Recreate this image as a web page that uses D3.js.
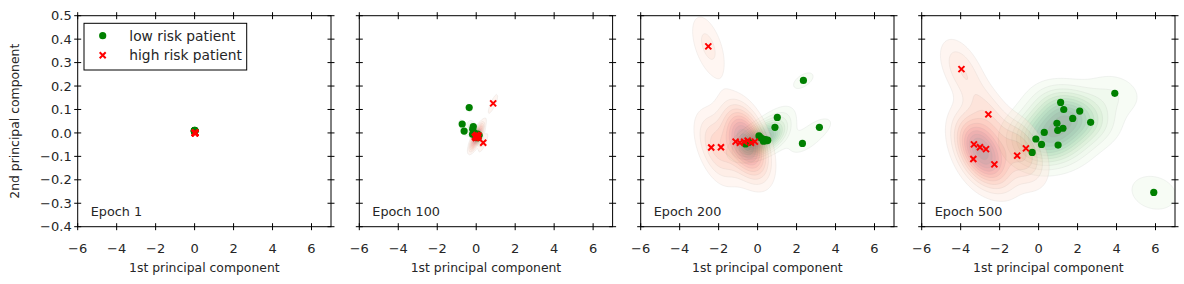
<!DOCTYPE html>
<html>
<head>
<meta charset="utf-8">
<script src="https://cdn.jsdelivr.net/npm/d3@7"></script>
<style>
  body { margin: 0; background: #fff; }
  text { font-family: "DejaVu Sans", sans-serif; fill: #262626; }
</style>
</head>
<body>
<svg id="chart" width="1184" height="284"></svg>
<script>
// ---- data ----
const epochLabels = ["Epoch 1", "Epoch 100", "Epoch 200", "Epoch 500"];
const xTicks = [-6, -4, -2, 0, 2, 4, 6];
const yTicks = [-0.4, -0.3, -0.2, -0.1, 0.0, 0.1, 0.2, 0.3, 0.4, 0.5];
const seriesNames = ["low risk patient", "high risk patient"];

const low1 = [[0.0, 0.009], [0.01, 0.008], [-0.01, 0.01], [0.0, 0.007], [0.02, 0.009], [-0.02, 0.008], [0.01, 0.011],
  [0.0, 0.01], [-0.01, 0.007], [0.02, 0.01], [0.0, 0.008], [0.01, 0.009], [-0.01, 0.009], [0.0, 0.011], [0.01, 0.007]];
const high1 = [[0.02, 0.0], [0.03, 0.001], [0.01, -0.001], [0.02, 0.002], [0.04, 0.0], [0.03, -0.001], [0.01, 0.001], [0.02, -0.002], [0.03, 0.0]];

const low100 = [[-0.36, 0.108], [-0.72, 0.038], [-0.62, 0.008], [-0.15, 0.027], [-0.18, 0.016], [-0.19, -0.006],
  [0.0, -0.01], [0.05, -0.015], [0.1, -0.02], [-0.05, -0.005], [0.0, -0.02], [0.15, -0.01], [0.08, -0.005], [-0.1, 0.0], [0.02, -0.012]];
const high100 = [[0.87, 0.126], [0.36, -0.042], [-0.07, -0.016], [0.1, -0.02], [0.02, -0.009], [0.05, -0.018], [0.12, -0.012], [-0.02, -0.022], [0.0, -0.014]];

const low200 = [[2.35, 0.224], [1.01, 0.066], [0.89, 0.024], [3.17, 0.024], [2.30, -0.045], [0.07, -0.013], [0.25, -0.025], [0.34, -0.03],
  [0.46, -0.033], [-0.62, -0.047], [0.40, -0.028], [0.52, -0.031], [0.30, -0.035], [-0.45, -0.04], [0.15, -0.02]];
const high200 = [[-2.53, 0.369], [-2.38, -0.062], [-1.88, -0.061], [-1.13, -0.037], [-0.91, -0.042], [-0.69, -0.037], [-0.51, -0.033], [-0.34, -0.042], [-0.14, -0.037]];

const low500 = [[3.91, 0.169], [1.13, 0.130], [1.29, 0.100], [2.11, 0.093], [1.75, 0.062], [0.94, 0.041], [1.25, 0.020], [0.98, 0.011],
  [0.29, 0.002], [2.67, 0.045], [-0.14, -0.026], [0.15, -0.049], [1.0, -0.052], [-0.33, -0.083], [5.91, -0.254]];
const high500 = [[-3.96, 0.272], [-2.58, 0.079], [-3.32, -0.049], [-3.01, -0.061], [-2.70, -0.069], [-3.35, -0.111], [-2.27, -0.134], [-1.10, -0.097], [-0.65, -0.066]];

const lowByEpoch = [low1, low100, low200, low500];
const highByEpoch = [high1, high100, high200, high500];

// ---- layout ----
const panelLeft = [77.7, 359.3, 640.7, 921.7];
const panelTop = 15.7, panelW = 253.3, panelH = 211;
const kdeAlpha = 0.35;
const nBands = 12;

const svg = d3.select("#chart");

const x = d3.scaleLinear().domain([-6, 7]).range([0, panelW]);
const y = d3.scaleLinear().domain([-0.4, 0.5]).range([panelH, 0]);

// gaussian kde with full covariance and scott factor (like scipy)
function kdeGrid(pts, nx, ny) {
  const n = pts.length;
  const mx = d3.mean(pts, d => d[0]), my = d3.mean(pts, d => d[1]);
  let sxx = 0, syy = 0, sxy = 0;
  pts.forEach(([a, b]) => { sxx += (a - mx) ** 2; syy += (b - my) ** 2; sxy += (a - mx) * (b - my); });
  const f2 = Math.pow(n, -2 / 6) / (n - 1);
  const cxx = sxx * f2, cyy = syy * f2, cxy = sxy * f2;
  const det = cxx * cyy - cxy * cxy;
  // too narrow to show anything at this scale
  if (Math.sqrt(cxx) * panelW / 13 < 1.5) return null;
  const ixx = cyy / det, iyy = cxx / det, ixy = -cxy / det;
  const norm = 1 / (2 * Math.PI * Math.sqrt(det) * n);
  const values = new Float64Array(nx * ny);
  for (let j = 0; j < ny; j++) {
    const gy = y.invert((j + 0.5) * panelH / ny);
    for (let i = 0; i < nx; i++) {
      const gx = x.invert((i + 0.5) * panelW / nx);
      let s = 0;
      for (const [a, b] of pts) {
        const dx = gx - a, dy = gy - b;
        s += Math.exp(-0.5 * (dx * dx * ixx + 2 * dx * dy * ixy + dy * dy * iyy));
      }
      values[j * nx + i] = s * norm;
    }
  }
  return values;
}

function drawKde(g, pts, interp) {
  const nx = Math.round(panelW / 1.5), ny = Math.round(panelH / 1.5);
  const values = kdeGrid(pts, nx, ny);
  if (!values) return;
  const step = d3.max(values) * 1.02 / nBands;
  // lowest band is left out, as shade_lowest=False
  const thresholds = d3.range(1, nBands).map(k => k * step);
  const contours = d3.contours().size([nx, ny]).thresholds(thresholds)(values);
  const path = d3.geoPath(d3.geoIdentity().scale(panelW / nx));
  const kg = g.append("g").attr("opacity", kdeAlpha);
  contours.forEach((c, k) => {
    const col = interp((k + 1) / (nBands - 1));
    kg.append("path")
      .attr("d", path(c))
      .attr("fill", col)
      .attr("stroke", d3.color(col).darker(0.8))
      .attr("stroke-width", 0.5);
  });
}

const crossPath = "M-3,-3L3,3M-3,3L3,-3";

epochLabels.forEach((label, p) => {
  const g = svg.append("g").attr("transform", `translate(${panelLeft[p]},${panelTop})`);

  g.append("clipPath").attr("id", `clip${p}`)
    .append("rect").attr("width", panelW).attr("height", panelH);

  const plot = g.append("g").attr("clip-path", `url(#clip${p})`);
  drawKde(plot, lowByEpoch[p], d3.interpolateGreens);
  drawKde(plot, highByEpoch[p], d3.interpolateReds);

  plot.selectAll(".low").data(lowByEpoch[p]).join("circle")
    .attr("cx", d => x(d[0])).attr("cy", d => y(d[1]))
    .attr("r", 3.6).attr("fill", "#008000");

  plot.selectAll(".high").data(highByEpoch[p]).join("path")
    .attr("transform", d => `translate(${x(d[0])},${y(d[1])})`)
    .attr("d", crossPath).attr("stroke", "#ff0000").attr("stroke-width", 2).attr("fill", "none");

  // frame
  g.append("rect").attr("width", panelW).attr("height", panelH)
    .attr("fill", "none").attr("stroke", "#000").attr("stroke-width", 1);

  // ticks (all four sides)
  const tk = g.append("g").attr("stroke", "#000").attr("stroke-width", 1);
  xTicks.forEach(t => {
    tk.append("line").attr("x1", x(t)).attr("x2", x(t)).attr("y1", panelH - 3.5).attr("y2", panelH + 3.5);
    tk.append("line").attr("x1", x(t)).attr("x2", x(t)).attr("y1", -3.5).attr("y2", 3.5);
  });
  yTicks.forEach(t => {
    tk.append("line").attr("y1", y(t)).attr("y2", y(t)).attr("x1", -3.5).attr("x2", 3.5);
    tk.append("line").attr("y1", y(t)).attr("y2", y(t)).attr("x1", panelW - 3.5).attr("x2", panelW + 3.5);
  });

  g.selectAll(".xt").data(xTicks).join("text")
    .attr("x", d => x(d)).attr("y", panelH + 26.5)
    .attr("text-anchor", "middle").attr("font-size", 13)
    .text(d => d3.format("")(d).replace("-", "\u2212"));

  if (p === 0) {
    g.selectAll(".yt").data(yTicks).join("text")
      .attr("x", -6).attr("y", d => y(d) + 4.7)
      .attr("text-anchor", "end").attr("font-size", 13)
      .text(d => d3.format(".1f")(d).replace("-", "\u2212"));
    g.append("text")
      .attr("transform", `translate(${15 - panelLeft[0]},${panelH / 2}) rotate(-90)`)
      .attr("text-anchor", "middle").attr("dy", "0.35em").attr("font-size", 12.4)
      .text("2nd principal component");
  }

  g.append("text")
    .attr("x", panelW / 2).attr("y", 256.5)
    .attr("text-anchor", "middle").attr("font-size", 12.4)
    .text("1st principal component");

  g.append("text")
    .attr("x", 13).attr("y", 200.5).attr("font-size", 12.8)
    .text(label);
});

// legend
const lg = svg.append("g");
lg.append("rect").attr("x", 84).attr("y", 23.3).attr("width", 162.7).attr("height", 46.7)
  .attr("fill", "#fff").attr("stroke", "#000").attr("stroke-width", 1);
lg.append("circle").attr("cx", 102.7).attr("cy", 35.7).attr("r", 3.6).attr("fill", "#008000");
lg.append("path").attr("transform", "translate(102.7,55.3)").attr("d", crossPath)
  .attr("stroke", "#ff0000").attr("stroke-width", 2).attr("fill", "none");
lg.append("text").attr("x", 129.3).attr("y", 40.8).attr("font-size", 13.8).text(seriesNames[0]);
lg.append("text").attr("x", 129.3).attr("y", 60.2).attr("font-size", 13.8).text(seriesNames[1]);
</script>
</body>
</html>
